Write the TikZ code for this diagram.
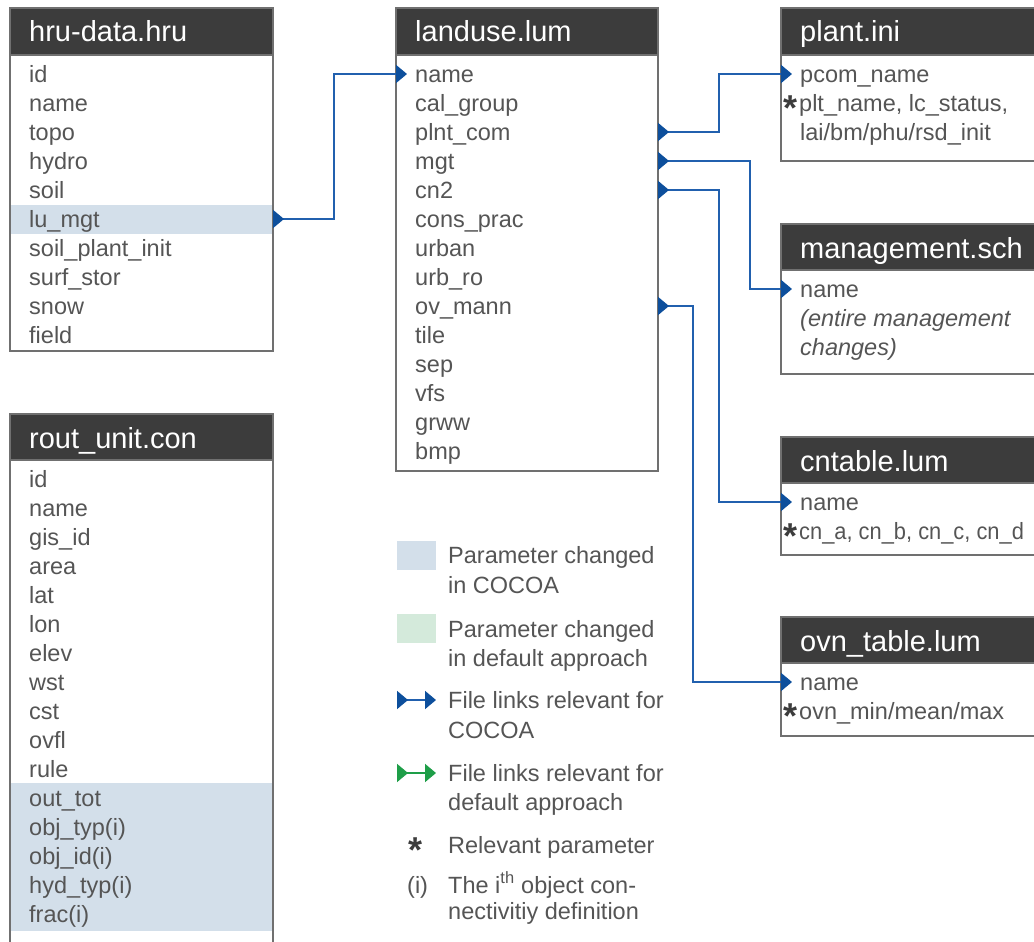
\documentclass[tikz,border=0pt]{standalone}
\usepackage{fontspec}
\setmainfont{Liberation Sans}
\usetikzlibrary{arrows.meta,calc}
\definecolor{hdr}{HTML}{3C3C3C}
\definecolor{txt}{HTML}{555555}
\definecolor{brd}{HTML}{707070}
\definecolor{hlblue}{HTML}{D3DFEA}
\definecolor{hlgreen}{HTML}{D4EADB}
\definecolor{lnk}{HTML}{2160AE}
\definecolor{lnkf}{HTML}{0D4F9C}
\definecolor{lnkg}{HTML}{1E9E48}
\tikzset{
 hdrbox/.style={fill=hdr, draw=brd, line width=1.3pt, anchor=north west, inner sep=0pt, outer sep=0pt},
 bodybox/.style={draw=brd, line width=1.3pt, anchor=north west, inner sep=0pt, outer sep=0pt},
 hdrtext/.style={anchor=base west, text=white, font=\fontsize{29}{32}\selectfont, inner sep=0pt},
 row/.style={anchor=base west, text=txt, font=\fontsize{23.5}{29}\selectfont, inner sep=0pt},
 star/.style={text=hdr, font=\bfseries\fontsize{36}{36}\selectfont, inner sep=0pt},
 link/.style={draw=lnk, line width=1.8pt, {Triangle[reversed,length=11pt,width=18pt,color=lnkf]}-{Triangle[length=11pt,width=18pt,color=lnkf]}},
 linkg/.style={draw=lnkg, line width=1.8pt, {Triangle[reversed,length=11pt,width=18pt,color=lnkg]}-{Triangle[length=11pt,width=18pt,color=lnkg]}},
}
\begin{document}
\begin{tikzpicture}[x=1pt,y=-1pt]
\useasboundingbox (0,0) rectangle (1034,942);
\clip (0,0) rectangle (1034,942);
\fill[white] (0,0) rectangle (1034,942);
% highlights
\fill[hlblue] (10,205) rectangle (273,234);
\fill[hlblue] (10,783) rectangle (273,931);
% hru-data.hru
\node[hdrbox, minimum width=263pt, minimum height=47pt] (hru-h) at (10,8) {};
\node[bodybox, minimum width=263pt, minimum height=296pt] (hru) at (10,55) {};
\node[hdrtext] (hru-t) at (29,42) {hru-data.hru};
\foreach \t [count=\i from 0] in {id,name,topo,hydro,soil,lu\_mgt,soil\_plant\_init,surf\_stor,snow,field}
  \node[row] (hru-\i) at (29,{82+\i*29}) {\t};
% rout_unit.con
\node[hdrbox, minimum width=263pt, minimum height=46pt] (ru-h) at (10,414) {};
\node[bodybox, minimum width=263pt, minimum height=500pt] (ru) at (10,460) {};
\node[hdrtext] (ru-t) at (29,448) {rout\_unit.con};
\foreach \t [count=\i from 0] in {id,name,gis\_id,area,lat,lon,elev,wst,cst,ovfl,rule,out\_tot,obj\_typ(i),obj\_id(i),hyd\_typ(i),frac(i)}
  \node[row] (ru-\i) at (29,{487+\i*29}) {\t};
% landuse.lum
\node[hdrbox, minimum width=262pt, minimum height=47pt] (lu-h) at (396,8) {};
\node[bodybox, minimum width=262pt, minimum height=416pt] (lu) at (396,55) {};
\node[hdrtext] (lu-t) at (415,42) {landuse.lum};
\foreach \t [count=\i from 0] in {name,cal\_group,plnt\_com,mgt,cn2,cons\_prac,urban,urb\_ro,ov\_mann,tile,sep,vfs,grww,bmp}
  \node[row] (lu-\i) at (415,{82+\i*29}) {\t};
% plant.ini
\node[hdrbox, minimum width=270pt, minimum height=47pt] (pl-h) at (781,8) {};
\node[bodybox, minimum width=270pt, minimum height=106pt] (pl) at (781,55) {};
\node[hdrtext] (pl-t) at (800,42) {plant.ini};
\node[row] (pl-0) at (800,82) {pcom\_name};
\node[star] (pl-s) at (790,108) {*};
\node[row] (pl-1) at (799,111) {plt\_name, lc\_status,};
\node[row] (pl-2) at (800,140) {lai/bm/phu/rsd\_init};
% management.sch
\node[hdrbox, minimum width=270pt, minimum height=46pt] (mg-h) at (781,224) {};
\node[bodybox, minimum width=270pt, minimum height=104pt] (mg) at (781,270) {};
\node[hdrtext] (mg-t) at (800,258) {management.sch};
\node[row] (mg-0) at (800,297) {name};
\node[row, font=\itshape\fontsize{23.5}{29}\selectfont] (mg-1) at (800,326) {(entire management};
\node[row, font=\itshape\fontsize{23.5}{29}\selectfont] (mg-2) at (800,355) {changes)};
% cntable.lum
\node[hdrbox, minimum width=270pt, minimum height=46pt] (cn-h) at (781,437) {};
\node[bodybox, minimum width=270pt, minimum height=72pt] (cn) at (781,483) {};
\node[hdrtext] (cn-t) at (800,471) {cntable.lum};
\node[row] (cn-0) at (800,510) {name};
\node[star] (cn-s) at (790,536) {*};
\node[row] (cn-1) at (799,539) {\scalebox{0.93}[1]{cn\_a, cn\_b, cn\_c, cn\_d}};
% ovn_table.lum
\node[hdrbox, minimum width=270pt, minimum height=46pt] (ov-h) at (781,617) {};
\node[bodybox, minimum width=270pt, minimum height=73pt] (ov) at (781,663) {};
\node[hdrtext] (ov-t) at (800,651) {ovn\_table.lum};
\node[row] (ov-0) at (800,690) {name};
\node[star] (ov-s) at (790,716) {*};
\node[row] (ov-1) at (799,719) {ovn\_min/mean/max};
% ports
\coordinate (s1) at ($(hru.east|-hru-5.base)+(0,-8)$);
\coordinate (e1) at ($(lu.west|-lu-0.base)+(11,-8)$);
\coordinate (s2) at ($(lu.east|-lu-2.base)+(0,-8)$);
\coordinate (e2) at ($(pl.west|-pl-0.base)+(11,-8)$);
\coordinate (s3) at ($(lu.east|-lu-3.base)+(0,-8)$);
\coordinate (e3) at ($(mg.west|-mg-0.base)+(11,-8)$);
\coordinate (s4) at ($(lu.east|-lu-4.base)+(0,-8)$);
\coordinate (e4) at ($(cn.west|-cn-0.base)+(11,-8)$);
\coordinate (s5) at ($(lu.east|-lu-8.base)+(0,-8)$);
\coordinate (e5) at ($(ov.west|-ov-0.base)+(11,-8)$);
\draw[link] (s1) -| (334,0 |- e1) -- (e1);
\draw[link] (s2) -| (719,0 |- e2) -- (e2);
\draw[link] (s3) -| (750,0 |- e3) -- (e3);
\draw[link] (s4) -| (719,0 |- e4) -- (e4);
\draw[link] (s5) -| (693,0 |- e5) -- (e5);
% legend
\fill[hlblue] (397,541) rectangle (436,570);
\fill[hlgreen] (397,614) rectangle (436,643);
\node[row] (lg-1a) at (448,563) {Parameter changed};
\node[row] (lg-1b) at (448,593) {in COCOA};
\node[row] (lg-2a) at (448,637) {Parameter changed};
\node[row] (lg-2b) at (448,666) {in default approach};
\coordinate (la1) at (397,700);
\coordinate (la2) at (436,700);
\draw[link] (la1) -- (la2);
\node[row] (lg-3a) at (448,708) {File links relevant for};
\node[row] (lg-3b) at (448,738) {COCOA};
\coordinate (lb1) at (397,773);
\coordinate (lb2) at (436,773);
\draw[linkg] (lb1) -- (lb2);
\node[row] (lg-4a) at (448,781) {File links relevant for};
\node[row] (lg-4b) at (448,810) {default approach};
\node[star] (lg-s) at (416,850) {*};
\node[row] (lg-5) at (448,853) {Relevant parameter};
\node[row] (lg-6i) at (407,893) {(i)};
\node[row] (lg-6a) at (448,893) {The i\textsuperscript{th} object con-};
\node[row] (lg-6b) at (448,919) {nectivitiy definition};
\end{tikzpicture}
\end{document}
